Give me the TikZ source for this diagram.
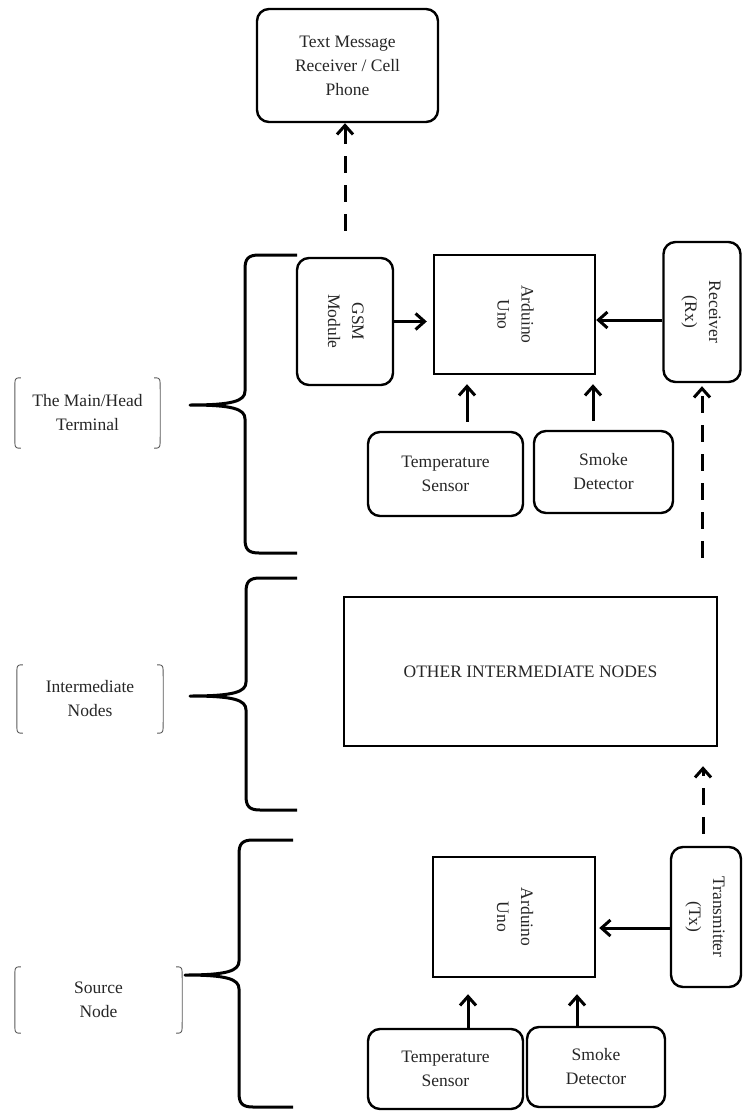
\documentclass[tikz,border=0pt]{standalone}
\usepackage{fontspec}
\setmainfont{Liberation Serif}
\usetikzlibrary{arrows.meta}

\tikzset{
  rbox/.style={draw,line width=2.4pt,rounded corners=12pt,align=center,inner sep=0pt},
  sbox/.style={draw,line width=2.4pt,align=center,inner sep=0pt},
  arr/.style={-{Straight Barb[length=9pt,width=16pt]},line width=3pt},
  dasharr/.style={arr,dash pattern=on 17pt off 12pt},
  brace/.style={line width=3pt,line join=round},
  paren/.style={line width=0.9pt,black!65},
  lbl/.style={inner sep=0pt,align=center}
}

\begin{document}
\begin{tikzpicture}[x=1pt,y=-1pt,font=\fontsize{17.5}{24}\selectfont,text=black!85]
\useasboundingbox (0,0) rectangle (743,1113);

% main / head terminal
\node (phone) at (347.5,65.5) [rbox,minimum width=181pt,minimum height=113pt] {Text Message\\Receiver / Cell\\Phone};
\node (gsm) at (345,321.5) [rbox,minimum width=96pt,minimum height=127pt] {\rotatebox{-90}{\begin{tabular}{@{}c@{}}GSM\\Module\end{tabular}}};
\node (ard1) at (514.5,314.5) [sbox,minimum width=161pt,minimum height=119pt] {\rotatebox{-90}{\begin{tabular}{@{}c@{}}Arduino\\Uno\end{tabular}}};
\node (rx) at (702,312) [rbox,minimum width=77pt,minimum height=140pt] {\rotatebox{-90}{\begin{tabular}{@{}c@{}}Receiver\\(Rx)\end{tabular}}};
\node (temp1) at (445.5,474) [rbox,minimum width=155pt,minimum height=84pt] {Temperature\\Sensor};
\node (smoke1) at (603.5,472) [rbox,minimum width=139pt,minimum height=82pt] {Smoke\\Detector};

% intermediate
\node (inter) at (530.5,671.5) [sbox,minimum width=373pt,minimum height=149pt] {OTHER INTERMEDIATE NODES};

% source node
\node (ard2) at (514,917) [sbox,minimum width=162pt,minimum height=120pt] {\rotatebox{-90}{\begin{tabular}{@{}c@{}}Arduino\\Uno\end{tabular}}};
\node (tx) at (706,917) [rbox,minimum width=70pt,minimum height=140pt] {\rotatebox{-90}{\begin{tabular}{@{}c@{}}Transmitter\\(Tx)\end{tabular}}};
\node (temp2) at (445.5,1069) [rbox,minimum width=155pt,minimum height=80pt] {Temperature\\Sensor};
\node (smoke2) at (596,1067) [rbox,minimum width=138pt,minimum height=80pt] {Smoke\\Detector};

% labels on the left
\node (lbl1) at (87.5,413) [lbl,minimum width=145pt,minimum height=70pt] {The Main/Head\\Terminal};
\node (lbl2) at (90,699) [lbl,minimum width=146pt,minimum height=68pt] {Intermediate\\Nodes};
\node (lbl3) at (98.5,1000) [lbl,minimum width=167pt,minimum height=66pt] {Source\\Node};

\foreach \n in {lbl1,lbl2,lbl3} {
  \draw[paren] ([xshift=6pt]\n.north west) .. controls (\n.north west) .. ([yshift=-12pt]\n.north west) -- ([yshift=12pt]\n.south west) .. controls (\n.south west) .. ([xshift=6pt]\n.south west);
  \draw[paren] ([xshift=-6pt]\n.north east) .. controls (\n.north east) .. ([yshift=-12pt]\n.north east) -- ([yshift=12pt]\n.south east) .. controls (\n.south east) .. ([xshift=-6pt]\n.south east);
}

% braces
\foreach \bx/\by/\tx/\ty/\ey/\ax in {245/255/190/405/553/297, 246/578/190/696/810/297, 239/840/185/975/1107/293}
  \draw[brace] (\ax,\by) -- (\bx+14,\by) .. controls (\bx+3,\by) and (\bx,\by+4) .. (\bx,\by+14) -- (\bx,\ty-14) .. controls (\bx,\ty-4) and (\bx-12,\ty) .. (\tx,\ty) .. controls (\bx-12,\ty) and (\bx,\ty+4) .. (\bx,\ty+14) -- (\bx,\ey-14) .. controls (\bx,\ey-4) and (\bx+3,\ey) .. (\bx+14,\ey) -- (\ax,\ey);

% arrows, head terminal
\draw[dasharr,shorten <=26pt] (gsm.north) -- (gsm.north |- phone.south);
\draw[arr,shorten >=6pt] (gsm.east) -- (gsm.east -| ard1.west);
\draw[arr] ([yshift=-8pt]rx.west) -- ([yshift=-8pt]rx.west -| ard1.east);
\draw[arr,shorten <=9pt,shorten >=9pt] ([xshift=21.5pt]temp1.north) -- ([xshift=21.5pt]temp1.north |- ard1.south);
\draw[arr,shorten <=9pt,shorten >=9pt] ([xshift=-10.5pt]smoke1.north) -- ([xshift=-10.5pt]smoke1.north |- ard1.south);
\draw[dasharr,shorten <=38pt,shorten >=3pt] (inter.north -| rx.south) -- (rx.south);

% arrows, source node
\draw[dasharr,shorten <=12pt,shorten >=19pt] ([xshift=-3pt]tx.north) -- ([xshift=-3pt]tx.north |- inter.south);
\draw[arr,shorten >=3pt] ([yshift=-11pt]tx.west) -- ([yshift=-11pt]tx.west -| ard2.east);
\draw[arr,shorten >=16pt] ([xshift=22.5pt]temp2.north) -- ([xshift=22.5pt]temp2.north |- ard2.south);
\draw[arr,shorten >=16pt] ([xshift=-19pt]smoke2.north) -- ([xshift=-19pt]smoke2.north |- ard2.south);

\end{tikzpicture}
\end{document}
